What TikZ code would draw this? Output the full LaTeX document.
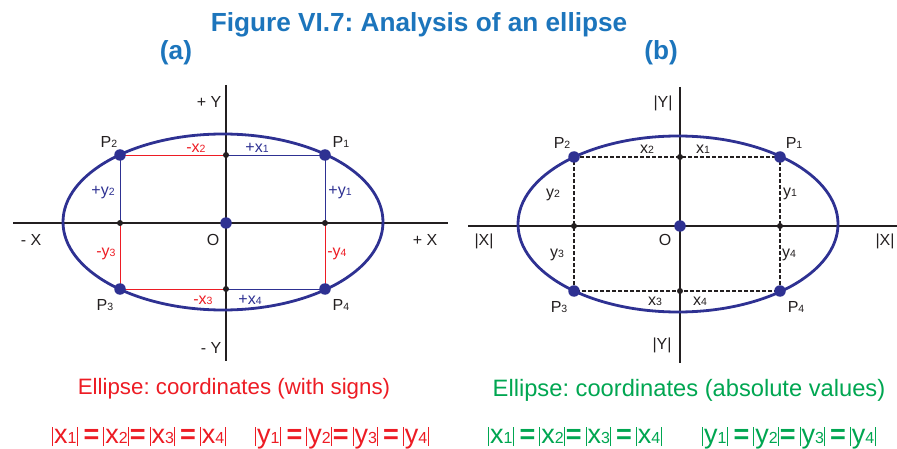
\documentclass[tikz,border=0pt]{standalone}
\usepackage{fontspec}
\setmainfont{Liberation Sans}
\frenchspacing
\definecolor{ttl}{HTML}{1C75BC}
\definecolor{eblue}{HTML}{2E3192}
\definecolor{ered}{HTML}{ED1C24}
\definecolor{egreen}{HTML}{00A651}
\definecolor{axc}{HTML}{231F20}
\newcommand\sd[1]{{\fontsize{10.5}{12}\selectfont #1}}
\newcommand\ed[1]{{\fontsize{16}{18}\selectfont #1}}
\newcommand\vb{\rule[-3pt]{0.8pt}{19pt}}
\newcommand\eqs{{\bfseries =}}
\newcommand\eqrow[1]{\vb\hspace{1pt}#1\ed{1}\hspace{0.5pt}\vb\hspace{6pt}\eqs\hspace{4pt}\vb\hspace{1pt}#1\ed{2}\hspace{0.5pt}\vb\hspace{1pt}\eqs\hspace{4pt}\vb\hspace{1pt}#1\ed{3}\hspace{0.5pt}\vb\hspace{5pt}\eqs\hspace{4pt}\vb\hspace{1pt}#1\ed{4}\hspace{0.5pt}\vb}
\begin{document}
\begin{tikzpicture}[x=1pt,y=-1pt,
  axis/.style={draw=axc,line width=1.3pt},
  ell/.style={draw=eblue,line width=2.8pt},
  bigdot/.style={circle,fill=eblue,inner sep=0pt,minimum size=11.5pt},
  smalldot/.style={circle,fill=axc,inner sep=0pt,minimum size=6pt},
  redl/.style={draw=ered,line width=0.9pt},
  bluel/.style={draw=eblue,line width=0.9pt},
  dashl/.style={draw=axc,line width=1.3pt,dash pattern=on 4pt off 2pt},
  lbl/.style={inner sep=0pt,anchor=base,text=axc,font=\fontsize{16}{18}\selectfont},
  clbl/.style={inner sep=0pt,anchor=base,font=\fontsize{16}{18}\selectfont},
  ttlstyle/.style={inner sep=0pt,anchor=base,text=ttl,font=\bfseries\fontsize{26.2}{29}\selectfont},
  eqn/.style={inner sep=0pt,anchor=base west,font=\fontsize{27}{30}\selectfont}]
\useasboundingbox (0,0) rectangle (897,449);

% ---------- titles
\node[ttlstyle] (title) at (419,32) {Figure VI.7: Analysis of an ellipse};
\node[ttlstyle] (ta) at (176,60) {(a)};
\node[ttlstyle] (tb) at (661,60) {(b)};

% ---------- panel (a)
\coordinate (aXl) at (13,223);
\coordinate (aXr) at (448,223);
\coordinate (aYt) at (226,85);
\coordinate (aYb) at (226,361);
\coordinate (aO) at (226,223);
\coordinate (aP1) at (325,155);
\coordinate (aP2) at (120,155);
\coordinate (aP3) at (120,289);
\coordinate (aP4) at (325,289);
\coordinate (aT) at (226,155);
\coordinate (aB) at (226,289);
\coordinate (aL) at (120,223);
\coordinate (aR) at (325,223);

\draw[axis] (aXl) -- (aXr);
\draw[axis] (aYt) -- (aYb);
\draw[ell] (223,222) ellipse [x radius=160, y radius=88];
\draw[redl] (aP2) -- (aT);
\draw[bluel] (aT) -- (aP1);
\draw[bluel] (aP2) -- (aL);
\draw[redl] (aL) -- (aP3);
\draw[redl] (aP3) -- (aB);
\draw[bluel] (aB) -- (aP4);
\draw[bluel] (aP1) -- (aR);
\draw[redl] (aR) -- (aP4);

\foreach \p in {aT,aB,aL,aR} \node[smalldot] at (\p) {};
\foreach \p in {aP1,aP2,aP3,aP4,aO} \node[bigdot] at (\p) {};

\node[lbl] (laP2) at (109,148) {P\sd{2}};
\node[lbl] (laP1) at (341,148) {P\sd{1}};
\node[lbl] (laP3) at (105,310) {P\sd{3}};
\node[lbl] (laP4) at (341,310) {P\sd{4}};
\node[clbl,text=ered] (lax2) at (196,153) {-x\sd{2}};
\node[clbl,text=eblue] (lax1) at (257,153) {+x\sd{1}};
\node[clbl,text=eblue] (lay2) at (103,196) {+y\sd{2}};
\node[clbl,text=eblue] (lay1) at (340,196) {+y\sd{1}};
\node[clbl,text=ered] (lay3) at (106,257) {-y\sd{3}};
\node[clbl,text=ered] (lay4) at (337,257) {-y\sd{4}};
\node[clbl,text=ered] (lax3) at (203,304) {-x\sd{3}};
\node[clbl,text=eblue] (lax4) at (250,304) {+x\sd{4}};
\node[lbl] (laXm) at (31,246) {- X};
\node[lbl] (laXp) at (425,246) {+ X};
\node[lbl] (laO) at (213,246) {O};
\node[lbl] (laYp) at (209,108) {+ Y};
\node[lbl] (laYm) at (211,353) {- Y};

% ---------- panel (b)
\coordinate (bXl) at (468,226);
\coordinate (bXr) at (897,226);
\coordinate (bYt) at (680,87);
\coordinate (bYb) at (680,363);
\coordinate (bO) at (680,226);
\coordinate (bP1) at (780,157);
\coordinate (bP2) at (574,157);
\coordinate (bP3) at (574,291);
\coordinate (bP4) at (780,291);
\coordinate (bT) at (680,157);
\coordinate (bB) at (680,291);
\coordinate (bL) at (574,226);
\coordinate (bR) at (780,226);

\draw[axis] (bXl) -- (bXr);
\draw[axis] (bYt) -- (bYb);
\draw[ell] (678,224) ellipse [x radius=160, y radius=88];
\draw[dashl] (bP2) -- (bP1) -- (bP4) -- (bP3) -- cycle;

\foreach \p in {bT,bB,bL,bR} \node[smalldot] at (\p) {};
\foreach \p in {bP1,bP2,bP3,bP4,bO} \node[bigdot] at (\p) {};

\node[lbl] (lbP2) at (562,149) {P\sd{2}};
\node[lbl] (lbP1) at (794,149) {P\sd{1}};
\node[lbl] (lbP3) at (559,312) {P\sd{3}};
\node[lbl] (lbP4) at (796,312) {P\sd{4}};
\node[lbl] (lbx2) at (647,154) {x\sd{2}};
\node[lbl] (lbx1) at (703,154) {x\sd{1}};
\node[lbl] (lby2) at (553,198) {y\sd{2}};
\node[lbl] (lby1) at (790,197) {y\sd{1}};
\node[lbl] (lby3) at (557,258) {y\sd{3}};
\node[lbl] (lby4) at (789,258) {y\sd{4}};
\node[lbl] (lbx3) at (655,305) {x\sd{3}};
\node[lbl] (lbx4) at (700,305) {x\sd{4}};
\node[lbl] (lbXl) at (484,246) {|X|};
\node[lbl] (lbXr) at (885,246) {|X|};
\node[lbl] (lbO) at (665,246) {O};
\node[lbl] (lbYt) at (663,108) {|Y|};
\node[lbl] (lbYb) at (662,349) {|Y|};

% ---------- captions
\node[inner sep=0pt,anchor=base,text=ered,font=\fontsize{22.3}{25}\selectfont] (capa) at (234,394) {Ellipse: coordinates (with signs)};
\node[inner sep=0pt,anchor=base,text=egreen,font=\fontsize{23.7}{26}\selectfont] (capb) at (689,396) {Ellipse: coordinates (absolute values)};

\node[eqn,text=ered] (eqax) at (52,443) {\eqrow{x}};
\node[eqn,text=ered] (eqay) at (255,443) {\eqrow{y}};
\node[eqn,text=egreen] (eqbx) at (488,443) {\eqrow{x}};
\node[eqn,text=egreen] (eqby) at (702,443) {\eqrow{y}};
\end{tikzpicture}
\end{document}
